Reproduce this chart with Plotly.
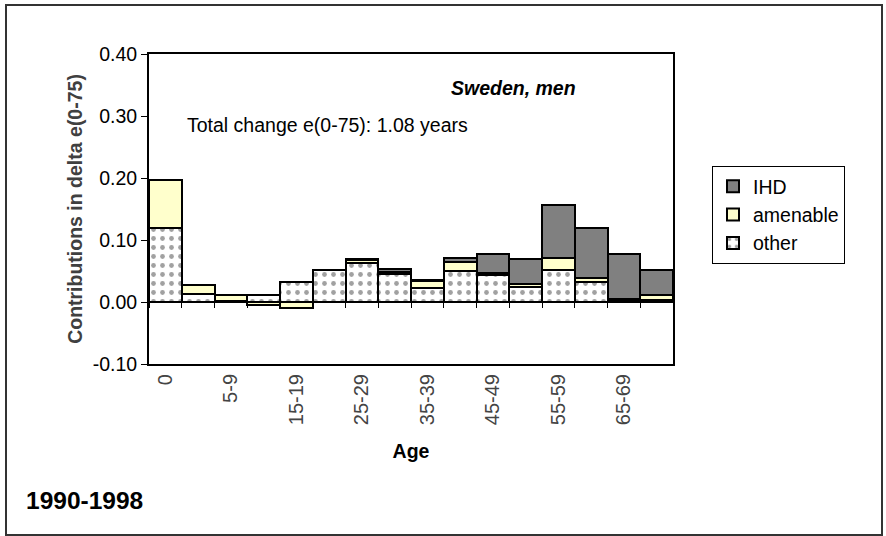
import plotly.graph_objects as go

ages = ["0", "1-4", "5-9", "10-14", "15-19", "20-24", "25-29", "30-34",
        "35-39", "40-44", "45-49", "50-54", "55-59", "60-64", "65-69", "70-74"]
other = [0.120, 0.013, 0.001, 0.012, 0.032, 0.051, 0.063, 0.045,
         0.022, 0.050, 0.044, 0.025, 0.052, 0.032, 0.003, 0.003]
amenable = [0.077, 0.014, 0.010, -0.005, -0.009, 0.001, 0.005, 0.004,
            0.012, 0.014, 0.002, 0.004, 0.019, 0.006, 0.002, 0.008]
ihd = [0.000, 0.000, 0.000, 0.000, 0.000, 0.000, 0.002, 0.004,
       0.001, 0.007, 0.031, 0.040, 0.085, 0.081, 0.072, 0.041]
ytick_vals = [-0.10, 0.00, 0.10, 0.20, 0.30, 0.40]

xs = list(range(len(ages)))
label_idx = xs[::2]

fig = go.Figure()
line = dict(color="black", width=2)
fig.add_trace(go.Bar(x=xs, y=other, name="other", legendrank=3,
                     marker=dict(color="white", line=line,
                                 pattern=dict(shape=".", fgcolor="#444444", bgcolor="white",
                                              size=9, solidity=0.22))))
fig.add_trace(go.Bar(x=xs, y=amenable, name="amenable", legendrank=2,
                     marker=dict(color="#FFFFCC", line=line)))
fig.add_trace(go.Bar(x=xs, y=ihd, name="IHD", legendrank=1,
                     marker=dict(color="#808080", line=line)))

# helper trace carrying a second x axis (ticks on the zero line)
fig.add_trace(go.Scatter(x=[xs[0], xs[-1]], y=[0, 0], xaxis="x2", mode="lines",
                         line=dict(color="black", width=1.5), showlegend=False,
                         hoverinfo="skip"))

L, R, T, B = 149, 673, 54, 364
W, H = 886, 536
pw, ph = R - L, B - T


def px(x):
    return (x - L) / pw


def py(y):
    return (B - y) / ph


FS = 19.5
fig.update_layout(
    width=W, height=H,
    margin=dict(l=L, r=W - R, t=T, b=H - B),
    paper_bgcolor="white", plot_bgcolor="white",
    barmode="relative", bargap=0,
    font=dict(family="Liberation Sans, Arial, sans-serif", color="black", size=FS),
    showlegend=True,
    legend=dict(traceorder="normal", x=px(712), y=py(166), xanchor="left",
                yanchor="top", bordercolor="black", borderwidth=1, bgcolor="white",
                font=dict(size=FS), itemwidth=30),
    xaxis=dict(range=[-0.5, len(ages) - 0.5], tickmode="array", tickvals=label_idx,
               ticktext=[ages[i] for i in label_idx], tickangle=-90,
               tickfont=dict(size=20, color="#444"), ticks="", showline=True,
               linecolor="black", linewidth=2, mirror=True, showgrid=False,
               zeroline=False,
               title=dict(text="<b>Age</b>", font=dict(size=FS), standoff=20)),
    xaxis2=dict(range=[-0.5, len(ages) - 0.5], overlaying="x", anchor="free",
                position=(0 - ytick_vals[0]) / (ytick_vals[-1] - ytick_vals[0]),
                tickmode="array", tickvals=[i - 0.5 for i in range(len(ages) + 1)],
                ticks="outside", ticklen=5, tickwidth=1, tickcolor="black",
                showticklabels=False, showline=False, showgrid=False, zeroline=False),
    yaxis=dict(range=[ytick_vals[0], ytick_vals[-1]], tickmode="array", tickvals=ytick_vals,
               ticktext=[f"{v:.2f}" for v in ytick_vals], ticks="outside", ticklen=6,
               tickcolor="black", tickfont=dict(size=FS), showline=True,
               linecolor="black", linewidth=2, mirror=True, showgrid=False, zeroline=False,
               title=dict(text="<b>Contributions in delta e(0-75)</b>",
                          font=dict(size=19.5, color="#404040"), standoff=5)),
    annotations=[
        dict(text="<b><i>Sweden, men</i></b>", x=px(578), y=py(88), xref="paper",
             yref="paper", xanchor="right", yanchor="middle", showarrow=False,
             font=dict(size=FS)),
        dict(text="Total change e(0-75): 1.08 years", x=px(185), y=py(125), xref="paper",
             yref="paper", xanchor="left", yanchor="middle", showarrow=False,
             font=dict(size=FS)),
        dict(text="<b>1990-1998</b>", x=px(24), y=py(500), xref="paper",
             yref="paper", xanchor="left", yanchor="middle", showarrow=False,
             font=dict(size=24.5)),
    ],
    shapes=[
        dict(type="rect", xref="paper", yref="paper", x0=px(6), x1=px(882),
             y0=py(535), y1=py(5), line=dict(color="#333", width=2), layer="below"),
    ],
)

fig.write_html("out.html")
